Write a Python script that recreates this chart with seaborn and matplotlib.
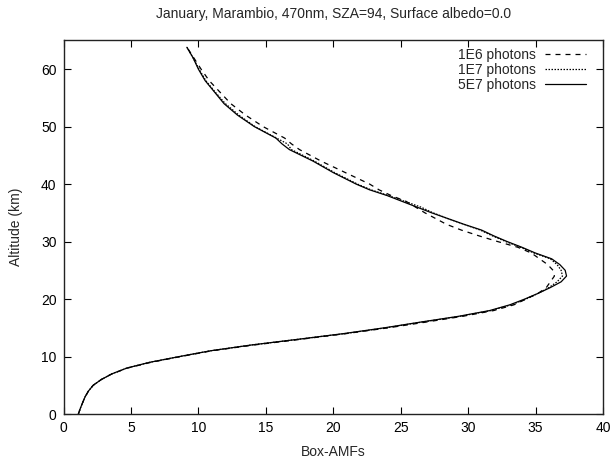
import matplotlib
matplotlib.use("Agg")
import matplotlib.pyplot as plt
import seaborn as sns
import pandas as pd

altitude = [0, 1, 2, 3, 4, 5, 6, 7, 8, 9, 10, 11, 12, 13, 14, 15, 16, 17, 18, 19,
            20, 21, 22, 23, 24, 25, 26, 27, 28, 29, 30, 31, 32, 33, 34, 35, 36, 37,
            38, 39, 40, 42, 44, 46, 47, 48, 50, 52, 54, 56, 58, 60, 62, 63.8]

amf_5e7 = [1.1, 1.25, 1.42, 1.6, 1.85, 2.2, 2.8, 3.6, 4.7, 6.4, 8.6, 10.9, 13.9, 17.4,
           20.8, 23.8, 26.5, 29.3, 31.6, 33.1, 34.2, 35.2, 36.1, 36.9, 37.3, 37.2, 36.8,
           36.2, 35.0, 34.0, 32.9, 31.9, 31.0, 29.7, 28.5, 27.3, 26.2, 25.1, 24.0, 22.7,
           21.7, 20.0, 18.5, 16.75, 16.2, 15.75, 14.15, 12.9, 11.9, 11.2, 10.5, 10.0, 9.6, 9.15]

amf_1e7 = [1.1, 1.25, 1.42, 1.6, 1.85, 2.2, 2.8, 3.6, 4.7, 6.4, 8.6, 10.9, 13.9, 17.4,
           20.9, 23.9, 26.6, 29.4, 31.7, 33.2, 34.3, 35.2, 36.0, 36.6, 37.0, 36.9, 36.6,
           36.1, 34.9, 33.9, 32.8, 31.8, 30.9, 29.7, 28.5, 27.4, 26.5, 25.3, 24.1, 22.8,
           21.8, 20.1, 18.6, 16.9, 16.6, 15.8, 14.2, 13.0, 12.0, 11.25, 10.55, 10.05, 9.6, 9.15]

amf_1e6 = [1.1, 1.25, 1.42, 1.6, 1.85, 2.2, 2.8, 3.6, 4.75, 6.5, 8.7, 11.0, 14.1, 17.6,
           21.0, 24.1, 26.9, 29.6, 31.9, 33.4, 34.3, 35.2, 35.8, 36.1, 36.4, 36.3, 35.9,
           35.3, 34.7, 33.7, 32.2, 30.8, 29.5, 28.4, 27.6, 26.8, 26.1, 25.4, 24.3, 23.4,
           22.7, 20.9, 19.1, 17.5, 16.9, 16.4, 14.8, 13.5, 12.4, 11.6, 10.8, 10.2, 9.65, 9.15]

labels = ["1E6 photons", "1E7 photons", "5E7 photons"]
title = "January, Marambio, 470nm, SZA=94, Surface albedo=0.0"

sns.set_style("ticks")
plt.rcParams["font.family"] = ["Liberation Sans", "DejaVu Sans"]
plt.rcParams["font.size"] = 10

fig = plt.figure(figsize=(6.12, 4.59), dpi=100)
ax = fig.add_axes([0.1038, 0.098, 0.8814, 0.814])

series = [amf_1e6, amf_1e7, amf_5e7]
styles = [(0, (4, 4)), (0, (1.2, 1.2)), "-"]
for vals, lab, ls in zip(series, labels, styles):
    df = pd.DataFrame({"amf": vals, "alt": altitude})
    sns.lineplot(data=df, x="amf", y="alt", sort=False, estimator=None, ax=ax,
                 color="black", linewidth=0.9, linestyle=ls, label=lab)

ax.set_xlim(0, 40)
ax.set_ylim(0, 65)
ax.set_xticks(range(0, 41, 5))
ax.set_yticks(range(0, 61, 10))
ax.tick_params(direction="in", length=5, width=0.8, top=True, right=True,
               labelsize=10, colors="black", pad=5)
for s in ax.spines.values():
    s.set_linewidth(1.0)
    s.set_color("#222222")
ax.set_xlabel("Box-AMFs", fontsize=10, labelpad=7)
ax.set_ylabel("Altitude (km)", fontsize=10, labelpad=13)
ax.set_title(title, fontsize=10, pad=16)

leg = ax.legend(loc="upper right", bbox_to_anchor=(0.978, 0.994), frameon=False,
                markerfirst=False, fontsize=10, handlelength=2.9, handletextpad=0.7,
                labelspacing=0.05, borderaxespad=0.0)

fig.savefig("out.png", dpi=100)
